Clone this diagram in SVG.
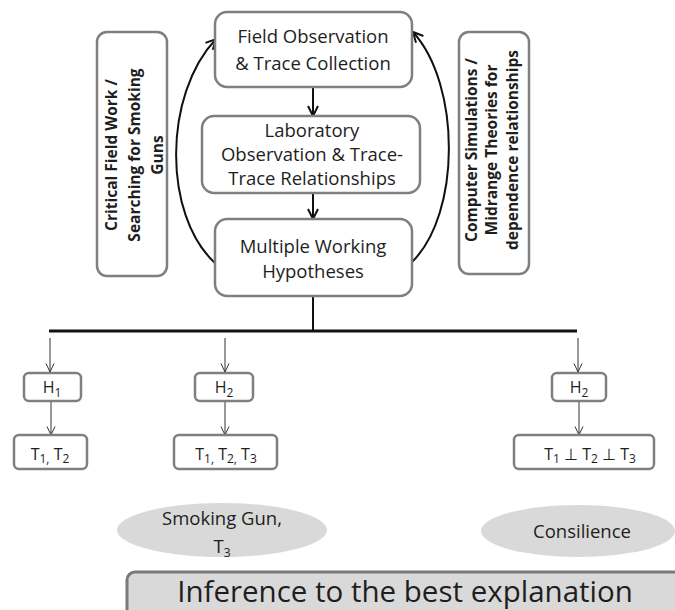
<svg xmlns="http://www.w3.org/2000/svg" width="675" height="610" viewBox="0 0 675 610">
<defs>
<style>
.box{fill:#fff;stroke:#7f7f7f;stroke-width:2.5}
.sbox{fill:#fff;stroke:#7f7f7f;stroke-width:2.5}
.t{font-family:"Open Sans","Noto Sans",sans-serif;fill:#1e1e1e;text-anchor:middle}
.m{font-size:18.5px}
.s{font-size:16px}
.b{font-size:15.5px;font-weight:bold}
.big{stroke:#111;stroke-width:2;fill:none}
.thin{stroke:#333;stroke-width:1;fill:none}
.ell{fill:#d9d9d9}
</style>
<marker id="ah" markerUnits="userSpaceOnUse" viewBox="0 0 12 12" refX="11" refY="6" markerWidth="12" markerHeight="12" orient="auto">
<path d="M1,1 L11,6 L1,11" fill="none" stroke="#111" stroke-width="2"/>
</marker>
<marker id="as" markerUnits="userSpaceOnUse" viewBox="0 0 10 10" refX="9.5" refY="5" markerWidth="10" markerHeight="10" orient="auto">
<path d="M1,1 L9.5,5 L1,9" fill="none" stroke="#333" stroke-width="1"/>
</marker>
</defs>
<rect width="675" height="610" fill="#fff"/>

<g id="connectors">
<path class="big" d="M215,263 C163,215 163,95 216,39" marker-end="url(#ah)"/>
<path class="big" d="M412,262 C461,214 461,85 413,32" marker-end="url(#ah)"/>
<line class="big" x1="313" y1="87" x2="313" y2="116" marker-end="url(#ah)"/>
<line class="big" x1="313" y1="193" x2="313" y2="219" marker-end="url(#ah)"/>
<line class="big" x1="313" y1="296" x2="313" y2="331"/>
<line x1="49" y1="331" x2="577" y2="331" stroke="#111" stroke-width="3"/>
<line class="thin" x1="50" y1="338" x2="50" y2="372" marker-end="url(#as)"/>
<line class="thin" x1="225" y1="338" x2="225" y2="372" marker-end="url(#as)"/>
<line class="thin" x1="578" y1="338" x2="578" y2="372" marker-end="url(#as)"/>
<line class="thin" x1="51" y1="401" x2="51" y2="435" marker-end="url(#as)"/>
<line class="thin" x1="225" y1="401" x2="225" y2="435" marker-end="url(#as)"/>
<line class="thin" x1="579" y1="401" x2="579" y2="435" marker-end="url(#as)"/>
</g>

<g id="field">
<rect class="box" x="215" y="12" width="197" height="75" rx="12"/>
<text class="t m" x="313" y="43">Field Observation</text>
<text class="t m" x="313" y="70">&amp; Trace Collection</text>
</g>

<g id="lab">
<rect class="box" x="202" y="116" width="218" height="77" rx="12"/>
<text class="t m" x="312" y="137">Laboratory</text>
<text class="t m" x="312" y="161">Observation &amp; Trace-</text>
<text class="t m" x="312" y="185">Trace Relationships</text>
</g>

<g id="mwh">
<rect class="box" x="215" y="219" width="197" height="77" rx="12"/>
<text class="t m" x="313" y="253">Multiple Working</text>
<text class="t m" x="313" y="278">Hypotheses</text>
</g>

<g id="left-side">
<rect class="box" x="97" y="32" width="70" height="244" rx="10"/>
<text class="t b" transform="translate(117,155) rotate(-90)">Critical Field Work /</text>
<text class="t b" transform="translate(140,155) rotate(-90)">Searching for Smoking</text>
<text class="t b" transform="translate(163,155) rotate(-90)">Guns</text>
</g>

<g id="right-side">
<rect class="box" x="459" y="32" width="70" height="242" rx="10"/>
<text class="t b" transform="translate(477,150) rotate(-90)">Computer Simulations /</text>
<text class="t b" transform="translate(497,150) rotate(-90)">Midrange Theories for</text>
<text class="t b" transform="translate(518,150) rotate(-90)">dependence relationships</text>
</g>

<g id="h1">
<rect class="sbox" x="24" y="373" width="57" height="28" rx="5"/>
<text class="t s" x="52" y="393">H<tspan font-size="12" dy="4">1</tspan></text>
</g>
<g id="t12">
<rect class="sbox" x="14" y="435" width="73" height="34" rx="5"/>
<text class="t s" x="50" y="460">T<tspan font-size="12" dy="3">1,</tspan><tspan dy="-3"> T</tspan><tspan font-size="12" dy="3">2</tspan></text>
</g>

<g id="h2a">
<rect class="sbox" x="195" y="373" width="58" height="28" rx="5"/>
<text class="t s" x="224" y="393">H<tspan font-size="12" dy="4">2</tspan></text>
</g>
<g id="t123">
<rect class="sbox" x="174" y="435" width="103" height="34" rx="5"/>
<text class="t s" x="226" y="460">T<tspan font-size="12" dy="3">1,</tspan><tspan dy="-3"> T</tspan><tspan font-size="12" dy="3">2,</tspan><tspan dy="-3"> T</tspan><tspan font-size="12" dy="3">3</tspan></text>
</g>

<g id="h2b">
<rect class="sbox" x="552" y="373" width="54" height="28" rx="5"/>
<text class="t s" x="579" y="393">H<tspan font-size="12" dy="4">2</tspan></text>
</g>
<g id="tperp">
<rect class="sbox" x="514" y="435" width="140" height="34" rx="5"/>
<text class="t s" x="590" y="460">T<tspan font-size="12" dy="3">1</tspan><tspan dy="-3"> ⊥ T</tspan><tspan font-size="12" dy="3">2</tspan><tspan dy="-3"> ⊥  T</tspan><tspan font-size="12" dy="3">3</tspan></text>
</g>

<g id="smoking">
<ellipse class="ell" cx="222" cy="530" rx="105" ry="27"/>
<text class="t m" x="222" y="525">Smoking Gun,</text>
<text class="t m" x="222" y="553">T<tspan font-size="12" dy="4">3</tspan></text>
</g>

<g id="consilience">
<ellipse class="ell" cx="578" cy="531" rx="97" ry="26"/>
<text class="t m" x="582" y="538">Consilience</text>
</g>

<g id="inference">
<rect x="127" y="572" width="570" height="52" rx="8" fill="#d9d9d9" stroke="#7a7a7a" stroke-width="3"/>
<text class="t" x="405" y="602" font-size="29.5">Inference to the best explanation</text>
</g>
</svg>
